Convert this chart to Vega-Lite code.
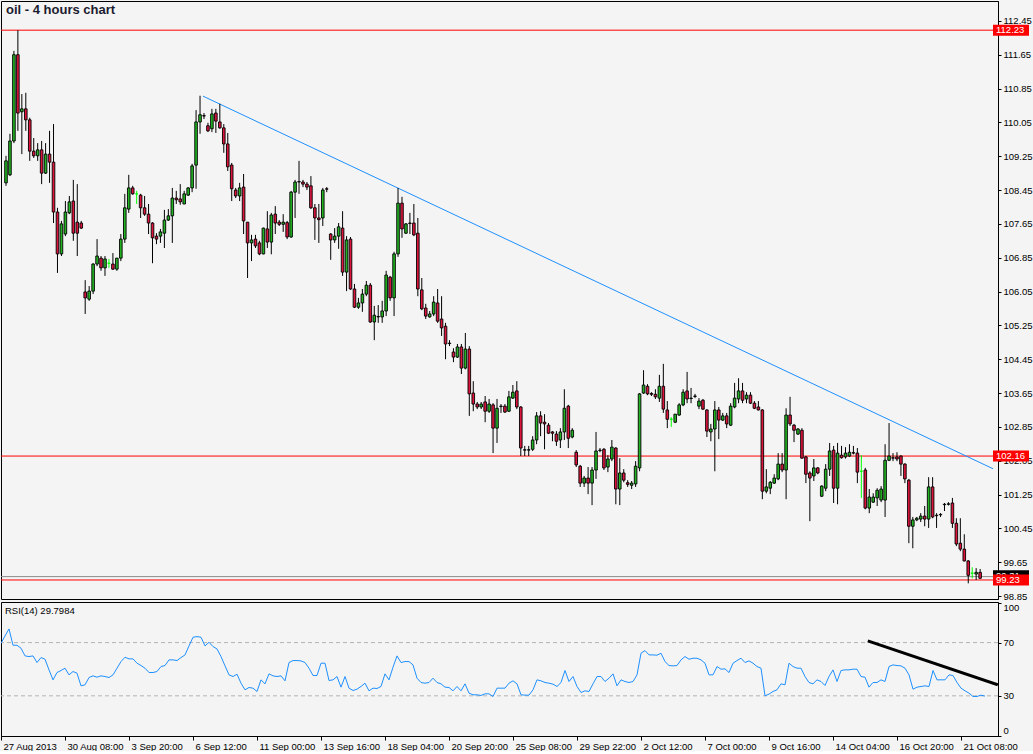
{
"$schema":"https://vega.github.io/schema/vega-lite/v6.json",
"background":"#F4F4F4",
"padding":0,
"autosize":{"type":"pad"},
"bounds":"flush",
"spacing":3,
"config":{"font":"Liberation Sans","view":{"stroke":"#000000","strokeWidth":1},"axis":{"labelFont":"Liberation Sans","labelFontSize":9.5,"labelColor":"#000000","domainColor":"#000000","tickColor":"#000000","grid":false,"labelOverlap":false}},
"datasets":{
"bars":[
{"i":0,"o":108.62,"h":109.26,"l":108.55,"c":109.14,"r":69.5},
{"i":1,"o":108.81,"h":109.78,"l":108.78,"c":109.61,"r":75},
{"i":2,"o":109.61,"h":111.74,"l":109.56,"c":111.65,"r":80.25},
{"i":3,"o":111.65,"h":112.23,"l":109.85,"c":110.27,"r":68},
{"i":4,"o":110.30,"h":110.72,"l":109.30,"c":110.37,"r":68},
{"i":5,"o":110.37,"h":110.75,"l":109.85,"c":110.11,"r":65.75},
{"i":6,"o":110.11,"h":110.16,"l":109.14,"c":109.37,"r":60},
{"i":7,"o":109.37,"h":109.68,"l":109.21,"c":109.26,"r":59.5},
{"i":8,"o":109.26,"h":109.56,"l":109.14,"c":109.40,"r":60},
{"i":9,"o":109.40,"h":109.61,"l":108.59,"c":108.85,"r":55},
{"i":10,"o":108.85,"h":109.56,"l":108.83,"c":109.30,"r":58.75},
{"i":11,"o":109.30,"h":109.85,"l":108.62,"c":109.11,"r":57.5},
{"i":12,"o":109.11,"h":110.01,"l":107.67,"c":107.93,"r":49.5},
{"i":13,"o":107.93,"h":108.03,"l":106.49,"c":106.94,"r":42},
{"i":14,"o":106.94,"h":107.72,"l":106.89,"c":107.65,"r":47.5},
{"i":15,"o":107.41,"h":108.19,"l":107.36,"c":107.93,"r":49},
{"i":16,"o":107.91,"h":108.31,"l":107.88,"c":108.17,"r":50.75},
{"i":17,"o":108.19,"h":108.69,"l":107.25,"c":107.43,"r":45.75},
{"i":18,"o":107.69,"h":108.59,"l":106.89,"c":107.43,"r":48.25},
{"i":19,"o":107.67,"h":107.72,"l":107.53,"c":107.55,"r":47},
{"i":20,"o":106.04,"h":106.32,"l":105.52,"c":105.90,"r":37.5},
{"i":21,"o":105.87,"h":106.18,"l":105.83,"c":106.06,"r":38.25},
{"i":22,"o":106.06,"h":106.72,"l":105.99,"c":106.70,"r":43.75},
{"i":23,"o":106.70,"h":107.29,"l":106.65,"c":106.89,"r":45},
{"i":24,"o":106.84,"h":106.89,"l":106.54,"c":106.61,"r":44},
{"i":25,"o":106.61,"h":106.89,"l":106.42,"c":106.82,"r":45},
{"i":26,"o":106.72,"h":106.82,"l":106.61,"c":106.72,"r":44.5},
{"i":27,"o":106.70,"h":106.96,"l":106.56,"c":106.58,"r":43.75},
{"i":28,"o":106.58,"h":106.84,"l":106.54,"c":106.84,"r":45.75},
{"i":29,"o":106.84,"h":107.41,"l":106.77,"c":107.29,"r":50.75},
{"i":30,"o":107.29,"h":108.36,"l":107.20,"c":108.03,"r":55.75},
{"i":31,"o":108.00,"h":108.81,"l":107.91,"c":108.50,"r":59},
{"i":32,"o":108.50,"h":108.55,"l":108.34,"c":108.36,"r":57.75},
{"i":33,"o":108.36,"h":108.43,"l":108.12,"c":108.36,"r":57.75},
{"i":34,"o":108.33,"h":108.36,"l":107.79,"c":108.03,"r":54.5},
{"i":35,"o":108.03,"h":108.31,"l":107.84,"c":107.88,"r":52.75},
{"i":36,"o":107.88,"h":108.12,"l":107.41,"c":107.67,"r":50.75},
{"i":37,"o":107.67,"h":107.69,"l":106.72,"c":107.32,"r":47.5},
{"i":38,"o":107.36,"h":107.43,"l":107.17,"c":107.29,"r":47.5},
{"i":39,"o":107.36,"h":107.53,"l":107.20,"c":107.46,"r":48.25},
{"i":40,"o":107.43,"h":107.98,"l":107.08,"c":107.74,"r":52},
{"i":41,"o":107.74,"h":108.00,"l":107.72,"c":107.84,"r":52.75},
{"i":42,"o":107.84,"h":108.50,"l":107.20,"c":108.26,"r":57},
{"i":43,"o":108.26,"h":108.43,"l":108.12,"c":108.22,"r":57},
{"i":44,"o":108.24,"h":108.59,"l":108.10,"c":108.17,"r":56.5},
{"i":45,"o":108.12,"h":108.43,"l":108.12,"c":108.36,"r":58.75},
{"i":46,"o":108.33,"h":108.52,"l":108.31,"c":108.50,"r":60.75},
{"i":47,"o":108.50,"h":109.07,"l":108.40,"c":109.02,"r":67.5},
{"i":48,"o":109.04,"h":110.34,"l":108.48,"c":110.06,"r":74},
{"i":49,"o":110.06,"h":110.68,"l":109.78,"c":110.23,"r":74.5},
{"i":50,"o":110.21,"h":110.27,"l":110.13,"c":110.20,"r":74},
{"i":51,"o":109.97,"h":110.04,"l":109.82,"c":109.85,"r":67.5},
{"i":52,"o":109.90,"h":110.37,"l":109.82,"c":110.25,"r":70.25},
{"i":53,"o":110.27,"h":110.37,"l":109.80,"c":110.08,"r":67},
{"i":54,"o":110.06,"h":110.49,"l":109.90,"c":109.92,"r":65.25},
{"i":55,"o":109.92,"h":110.01,"l":109.33,"c":109.54,"r":59.5},
{"i":56,"o":109.54,"h":109.80,"l":108.90,"c":109.00,"r":52.5},
{"i":57,"o":109.04,"h":109.09,"l":108.19,"c":108.48,"r":45.75},
{"i":58,"o":108.45,"h":108.50,"l":108.26,"c":108.31,"r":44.5},
{"i":59,"o":108.31,"h":108.62,"l":108.19,"c":108.50,"r":46.25},
{"i":60,"o":108.52,"h":108.83,"l":107.41,"c":107.72,"r":39.5},
{"i":61,"o":107.69,"h":107.69,"l":106.37,"c":107.20,"r":34.5},
{"i":62,"o":107.20,"h":107.39,"l":106.77,"c":107.27,"r":36.25},
{"i":63,"o":107.29,"h":107.39,"l":107.08,"c":107.13,"r":35.75},
{"i":64,"o":107.20,"h":107.25,"l":106.91,"c":106.94,"r":33.25},
{"i":65,"o":106.94,"h":107.56,"l":106.93,"c":107.55,"r":42},
{"i":66,"o":107.53,"h":107.95,"l":107.08,"c":107.22,"r":39},
{"i":67,"o":107.22,"h":107.91,"l":106.93,"c":107.86,"r":46.5},
{"i":68,"o":107.88,"h":108.07,"l":107.41,"c":107.67,"r":45},
{"i":69,"o":107.69,"h":107.74,"l":107.60,"c":107.64,"r":44.5},
{"i":70,"o":107.64,"h":107.88,"l":107.46,"c":107.69,"r":45},
{"i":71,"o":107.68,"h":107.72,"l":107.29,"c":107.34,"r":41.25},
{"i":72,"o":107.34,"h":108.43,"l":107.32,"c":108.40,"r":55},
{"i":73,"o":108.40,"h":108.69,"l":107.79,"c":108.64,"r":56.5},
{"i":74,"o":108.64,"h":109.14,"l":108.36,"c":108.65,"r":56.5},
{"i":75,"o":108.64,"h":108.69,"l":108.52,"c":108.59,"r":56.25},
{"i":76,"o":108.59,"h":108.64,"l":108.45,"c":108.52,"r":55},
{"i":77,"o":108.55,"h":108.78,"l":108.00,"c":108.03,"r":50.75},
{"i":78,"o":108.03,"h":108.12,"l":107.27,"c":107.79,"r":45.25},
{"i":79,"o":107.79,"h":108.12,"l":107.20,"c":107.75,"r":45.25},
{"i":80,"o":107.79,"h":108.50,"l":107.60,"c":108.45,"r":54.5},
{"i":81,"o":108.48,"h":108.52,"l":108.40,"c":108.47,"r":54.5},
{"i":82,"o":107.41,"h":107.43,"l":106.80,"c":107.27,"r":41.5},
{"i":83,"o":107.27,"h":107.55,"l":107.20,"c":107.36,"r":42},
{"i":84,"o":107.36,"h":107.67,"l":107.06,"c":107.58,"r":44.5},
{"i":85,"o":107.55,"h":107.95,"l":106.42,"c":106.51,"r":36.5},
{"i":86,"o":106.51,"h":107.36,"l":106.06,"c":107.27,"r":44.5},
{"i":87,"o":107.29,"h":107.34,"l":106.09,"c":106.11,"r":35.75},
{"i":88,"o":106.11,"h":106.23,"l":105.66,"c":105.68,"r":34},
{"i":89,"o":105.68,"h":105.90,"l":105.64,"c":105.78,"r":35},
{"i":90,"o":105.78,"h":106.11,"l":105.57,"c":105.99,"r":37},
{"i":91,"o":105.99,"h":106.30,"l":105.94,"c":106.20,"r":39.5},
{"i":92,"o":106.20,"h":106.25,"l":105.31,"c":105.33,"r":33.75},
{"i":93,"o":105.33,"h":105.71,"l":104.90,"c":105.49,"r":35.75},
{"i":94,"o":105.46,"h":105.73,"l":105.31,"c":105.45,"r":35.5},
{"i":95,"o":105.45,"h":105.83,"l":105.31,"c":105.59,"r":37},
{"i":96,"o":105.59,"h":106.54,"l":105.47,"c":106.44,"r":46.5},
{"i":97,"o":106.39,"h":106.42,"l":105.83,"c":105.90,"r":42},
{"i":98,"o":105.90,"h":106.99,"l":105.47,"c":106.94,"r":51.5},
{"i":99,"o":106.94,"h":108.50,"l":106.87,"c":108.14,"r":60},
{"i":100,"o":108.14,"h":108.29,"l":107.32,"c":107.53,"r":55},
{"i":101,"o":107.43,"h":107.67,"l":107.41,"c":107.65,"r":55.75},
{"i":102,"o":107.67,"h":107.91,"l":107.41,"c":107.66,"r":55.75},
{"i":103,"o":107.67,"h":108.12,"l":107.36,"c":107.39,"r":53.25},
{"i":104,"o":107.43,"h":107.79,"l":105.94,"c":106.11,"r":43.25},
{"i":105,"o":106.09,"h":106.37,"l":105.61,"c":105.64,"r":40},
{"i":106,"o":105.66,"h":105.76,"l":105.40,"c":105.47,"r":39.5},
{"i":107,"o":105.45,"h":105.59,"l":105.43,"c":105.52,"r":40},
{"i":108,"o":105.52,"h":105.94,"l":105.47,"c":105.80,"r":43.25},
{"i":109,"o":105.78,"h":106.11,"l":105.31,"c":105.35,"r":40},
{"i":110,"o":105.40,"h":105.94,"l":105.00,"c":105.19,"r":39},
{"i":111,"o":105.23,"h":105.31,"l":104.45,"c":104.81,"r":36.5},
{"i":112,"o":104.82,"h":104.90,"l":104.76,"c":104.83,"r":36.25},
{"i":113,"o":104.62,"h":104.71,"l":104.38,"c":104.50,"r":33.75},
{"i":114,"o":104.50,"h":104.81,"l":104.48,"c":104.74,"r":37},
{"i":115,"o":104.74,"h":104.81,"l":104.10,"c":104.24,"r":33.75},
{"i":116,"o":104.24,"h":105.07,"l":104.21,"c":104.69,"r":39},
{"i":117,"o":104.69,"h":104.76,"l":103.11,"c":103.63,"r":32},
{"i":118,"o":103.65,"h":103.93,"l":103.22,"c":103.39,"r":30.75},
{"i":119,"o":103.39,"h":103.44,"l":103.27,"c":103.32,"r":30.75},
{"i":120,"o":103.32,"h":103.44,"l":103.27,"c":103.39,"r":30.25},
{"i":121,"o":103.44,"h":103.58,"l":102.96,"c":103.22,"r":31.5},
{"i":122,"o":103.22,"h":103.51,"l":103.18,"c":103.39,"r":31.5},
{"i":123,"o":103.37,"h":103.41,"l":102.23,"c":102.82,"r":29.5},
{"i":124,"o":102.82,"h":103.51,"l":102.47,"c":103.29,"r":35.75},
{"i":125,"o":103.33,"h":103.39,"l":103.18,"c":103.34,"r":35.75},
{"i":126,"o":103.34,"h":103.39,"l":103.18,"c":103.20,"r":35.75},
{"i":127,"o":103.22,"h":103.70,"l":103.20,"c":103.56,"r":39.5},
{"i":128,"o":103.53,"h":103.84,"l":103.51,"c":103.67,"r":41.25},
{"i":129,"o":103.70,"h":103.93,"l":103.27,"c":103.32,"r":39},
{"i":130,"o":103.32,"h":103.34,"l":102.16,"c":102.35,"r":30.75},
{"i":131,"o":102.31,"h":102.40,"l":102.16,"c":102.30,"r":30.5},
{"i":132,"o":102.30,"h":102.40,"l":102.16,"c":102.31,"r":30.5},
{"i":133,"o":102.32,"h":102.63,"l":102.28,"c":102.54,"r":34.5},
{"i":134,"o":102.54,"h":103.20,"l":102.44,"c":103.11,"r":42},
{"i":135,"o":103.11,"h":103.22,"l":102.63,"c":102.94,"r":41.25},
{"i":136,"o":102.96,"h":103.15,"l":102.32,"c":102.92,"r":40},
{"i":137,"o":102.89,"h":102.94,"l":102.68,"c":102.70,"r":39.5},
{"i":138,"o":102.73,"h":102.75,"l":102.51,"c":102.70,"r":38.75},
{"i":139,"o":102.68,"h":102.75,"l":102.40,"c":102.51,"r":37},
{"i":140,"o":102.54,"h":102.82,"l":102.35,"c":102.73,"r":40},
{"i":141,"o":102.73,"h":103.74,"l":102.54,"c":103.29,"r":49},
{"i":142,"o":103.34,"h":103.37,"l":102.35,"c":102.58,"r":40.75},
{"i":143,"o":102.61,"h":102.82,"l":102.58,"c":102.77,"r":44.5},
{"i":144,"o":102.25,"h":102.30,"l":101.90,"c":101.95,"r":37},
{"i":145,"o":101.92,"h":101.95,"l":101.43,"c":101.52,"r":32.5},
{"i":146,"o":101.52,"h":101.69,"l":101.43,"c":101.64,"r":33.75},
{"i":147,"o":101.64,"h":101.90,"l":101.26,"c":101.52,"r":33.25},
{"i":148,"o":101.52,"h":101.90,"l":101.00,"c":101.83,"r":39},
{"i":149,"o":101.83,"h":102.73,"l":101.62,"c":102.28,"r":44.5},
{"i":150,"o":102.29,"h":102.35,"l":102.25,"c":102.30,"r":44.5},
{"i":151,"o":102.32,"h":102.35,"l":101.83,"c":101.88,"r":40.75},
{"i":152,"o":101.90,"h":102.18,"l":101.78,"c":102.09,"r":43.25},
{"i":153,"o":102.09,"h":102.54,"l":102.04,"c":102.37,"r":46.5},
{"i":154,"o":102.35,"h":102.37,"l":101.02,"c":101.38,"r":37.5},
{"i":155,"o":101.38,"h":102.11,"l":101.00,"c":101.76,"r":42},
{"i":156,"o":101.76,"h":101.85,"l":101.54,"c":101.59,"r":40.75},
{"i":157,"o":101.53,"h":101.59,"l":101.43,"c":101.49,"r":40},
{"i":158,"o":101.47,"h":101.57,"l":101.38,"c":101.52,"r":40.75},
{"i":159,"o":101.50,"h":102.04,"l":101.43,"c":101.92,"r":45.75},
{"i":160,"o":101.88,"h":103.65,"l":101.80,"c":103.63,"r":62},
{"i":161,"o":103.65,"h":104.19,"l":103.63,"c":103.84,"r":64},
{"i":162,"o":103.81,"h":103.86,"l":103.60,"c":103.63,"r":60.75},
{"i":163,"o":103.64,"h":103.67,"l":103.58,"c":103.62,"r":60.75},
{"i":164,"o":103.62,"h":103.74,"l":103.51,"c":103.56,"r":60.5},
{"i":165,"o":103.53,"h":104.08,"l":103.44,"c":103.81,"r":62},
{"i":166,"o":103.81,"h":104.34,"l":103.18,"c":103.27,"r":55.75},
{"i":167,"o":103.25,"h":103.46,"l":102.82,"c":103.03,"r":52.75},
{"i":168,"o":103.03,"h":103.08,"l":102.85,"c":103.03,"r":52.5},
{"i":169,"o":102.96,"h":103.15,"l":102.94,"c":103.15,"r":52.75},
{"i":170,"o":103.13,"h":103.41,"l":103.11,"c":103.37,"r":57},
{"i":171,"o":103.37,"h":103.74,"l":103.34,"c":103.67,"r":59.5},
{"i":172,"o":103.70,"h":104.15,"l":103.41,"c":103.51,"r":57.5},
{"i":173,"o":103.52,"h":103.77,"l":103.41,"c":103.53,"r":58.25},
{"i":174,"o":103.57,"h":103.63,"l":103.53,"c":103.58,"r":58.25},
{"i":175,"o":103.34,"h":103.53,"l":103.27,"c":103.46,"r":57},
{"i":176,"o":103.48,"h":103.51,"l":103.25,"c":103.27,"r":54.5},
{"i":177,"o":103.25,"h":103.27,"l":102.61,"c":102.75,"r":45.75},
{"i":178,"o":102.73,"h":102.92,"l":102.51,"c":102.80,"r":45.75},
{"i":179,"o":102.80,"h":103.46,"l":101.80,"c":103.25,"r":52},
{"i":180,"o":103.25,"h":103.32,"l":102.56,"c":103.01,"r":50},
{"i":181,"o":103.01,"h":103.18,"l":102.99,"c":103.11,"r":50.25},
{"i":182,"o":103.11,"h":103.18,"l":102.82,"c":102.92,"r":47.5},
{"i":183,"o":102.89,"h":103.41,"l":102.87,"c":103.34,"r":54.5},
{"i":184,"o":103.32,"h":103.89,"l":103.29,"c":103.53,"r":56.5},
{"i":185,"o":103.51,"h":104.00,"l":103.41,"c":103.70,"r":58.25},
{"i":186,"o":103.70,"h":103.89,"l":103.41,"c":103.48,"r":55},
{"i":187,"o":103.51,"h":103.67,"l":103.41,"c":103.60,"r":56.25},
{"i":188,"o":103.60,"h":103.67,"l":103.39,"c":103.41,"r":54.5},
{"i":189,"o":103.41,"h":103.46,"l":103.27,"c":103.29,"r":52},
{"i":190,"o":103.32,"h":103.46,"l":103.24,"c":103.25,"r":50.75},
{"i":191,"o":103.25,"h":103.27,"l":101.14,"c":101.33,"r":30},
{"i":192,"o":101.33,"h":101.85,"l":101.28,"c":101.43,"r":31.25},
{"i":193,"o":101.40,"h":101.57,"l":101.26,"c":101.54,"r":33.25},
{"i":194,"o":101.52,"h":101.73,"l":101.50,"c":101.64,"r":34.5},
{"i":195,"o":101.62,"h":102.23,"l":101.59,"c":101.97,"r":39},
{"i":196,"o":101.97,"h":102.23,"l":101.78,"c":101.83,"r":38.25},
{"i":197,"o":101.83,"h":103.29,"l":101.14,"c":103.13,"r":54.5},
{"i":198,"o":103.13,"h":103.56,"l":102.87,"c":102.92,"r":52},
{"i":199,"o":102.89,"h":102.92,"l":102.49,"c":102.77,"r":50.75},
{"i":200,"o":102.68,"h":102.82,"l":102.66,"c":102.80,"r":50.75},
{"i":201,"o":102.77,"h":102.82,"l":102.10,"c":102.11,"r":44.5},
{"i":202,"o":102.14,"h":102.16,"l":101.52,"c":101.73,"r":40},
{"i":203,"o":101.76,"h":101.80,"l":100.62,"c":101.64,"r":39},
{"i":204,"o":101.69,"h":102.09,"l":101.57,"c":101.88,"r":42},
{"i":205,"o":101.88,"h":101.90,"l":101.73,"c":101.76,"r":40.75},
{"i":206,"o":101.21,"h":101.47,"l":101.19,"c":101.45,"r":37.75},
{"i":207,"o":101.40,"h":101.97,"l":101.33,"c":101.85,"r":44.5},
{"i":208,"o":101.85,"h":102.47,"l":101.69,"c":102.28,"r":49.5},
{"i":209,"o":102.30,"h":102.40,"l":101.05,"c":101.40,"r":40.75},
{"i":210,"o":101.40,"h":102.47,"l":101.02,"c":102.23,"r":49},
{"i":211,"o":102.18,"h":102.40,"l":102.10,"c":102.12,"r":49.5},
{"i":212,"o":102.14,"h":102.37,"l":102.10,"c":102.23,"r":49.5},
{"i":213,"o":102.16,"h":102.44,"l":102.14,"c":102.25,"r":50},
{"i":214,"o":102.24,"h":102.40,"l":102.20,"c":102.23,"r":50},
{"i":215,"o":102.23,"h":102.35,"l":101.52,"c":101.78,"r":44.5},
{"i":216,"o":101.80,"h":102.18,"l":101.17,"c":101.80,"r":44},
{"i":217,"o":101.83,"h":101.88,"l":100.90,"c":100.93,"r":36.5},
{"i":218,"o":100.93,"h":101.38,"l":100.81,"c":101.19,"r":40},
{"i":219,"o":101.07,"h":101.28,"l":101.05,"c":101.19,"r":40},
{"i":220,"o":101.17,"h":101.40,"l":100.98,"c":101.35,"r":42},
{"i":221,"o":101.12,"h":101.45,"l":101.07,"c":101.38,"r":40.75},
{"i":222,"o":101.12,"h":102.44,"l":100.72,"c":102.06,"r":52},
{"i":223,"o":102.06,"h":102.94,"l":102.04,"c":102.16,"r":53.25},
{"i":224,"o":102.12,"h":102.23,"l":102.04,"c":102.11,"r":52.75},
{"i":225,"o":102.14,"h":102.25,"l":102.04,"c":102.09,"r":52.5},
{"i":226,"o":102.16,"h":102.18,"l":101.69,"c":101.97,"r":50.75},
{"i":227,"o":101.97,"h":101.99,"l":101.52,"c":101.62,"r":45.75},
{"i":228,"o":101.59,"h":101.62,"l":100.10,"c":100.50,"r":35},
{"i":229,"o":100.50,"h":100.72,"l":99.98,"c":100.65,"r":36.5},
{"i":230,"o":100.65,"h":100.72,"l":100.62,"c":100.69,"r":37},
{"i":231,"o":100.67,"h":100.81,"l":100.60,"c":100.74,"r":37.5},
{"i":232,"o":100.74,"h":100.98,"l":100.50,"c":100.67,"r":37},
{"i":233,"o":100.67,"h":101.66,"l":100.46,"c":101.43,"r":49},
{"i":234,"o":101.43,"h":101.66,"l":100.69,"c":100.72,"r":42},
{"i":235,"o":100.75,"h":100.81,"l":100.46,"c":100.76,"r":42},
{"i":236,"o":100.77,"h":100.81,"l":100.72,"c":100.78,"r":42},
{"i":237,"o":101.01,"h":101.05,"l":100.86,"c":101.02,"r":45.75},
{"i":238,"o":101.02,"h":101.07,"l":100.99,"c":101.03,"r":45.25},
{"i":239,"o":101.05,"h":101.17,"l":100.46,"c":100.57,"r":40},
{"i":240,"o":100.57,"h":100.69,"l":100.03,"c":100.08,"r":35.75},
{"i":241,"o":100.10,"h":100.69,"l":99.91,"c":99.96,"r":33.75},
{"i":242,"o":99.96,"h":100.31,"l":99.67,"c":99.68,"r":32},
{"i":243,"o":99.68,"h":99.70,"l":99.15,"c":99.34,"r":29.5},
{"i":244,"o":99.39,"h":99.53,"l":99.27,"c":99.39,"r":29.5},
{"i":245,"o":99.37,"h":99.51,"l":99.23,"c":99.41,"r":30.5},
{"i":246,"o":99.41,"h":99.49,"l":99.26,"c":99.27,"r":29.8}
],
"lvl":[{"p":112.23},{"p":102.16},{"p":99.23}],
"bid":[{"p":99.31}],
"trend":[{"i":49.75,"p":110.67},{"i":249.25,"p":101.86}],
"bidtag":[{"p":99.33,"t":"99.31"}],
"lvltag":[{"p":112.23,"t":"112.23"},{"p":102.16,"t":"102.16"},{"p":99.23,"t":"99.23"}],
"rlev":[{"r":30},{"r":70}],
"rtrend":[{"i":216.7,"r":71.25},{"i":249.2,"r":38.25}]
},
"vconcat":[
{
"width":997,"height":598,
"title":{"text":"oil - 4 hours chart","anchor":"start","frame":"group","offset":-16,"dx":5,"fontSize":13,"fontWeight":"bold","color":"#1C1C30","font":"Liberation Sans"},
"layer":[
{"data":{"name":"lvl"},"mark":{"type":"rule","color":"#FF0000","strokeWidth":1},
 "encoding":{"y":{"field":"p","type":"quantitative","title":null,"scale":{"domain":[98.78,112.92],"nice":false,"zero":false},
  "axis":{"orient":"right","values":[98.85,99.65,100.45,101.25,102.05,102.85,103.65,104.45,105.25,106.05,106.85,107.65,108.45,109.25,110.05,110.85,111.65,112.45],"tickCount":60,"format":".2f","tickSize":3,"labelPadding":2,"labelOverlap":false,"grid":false}}}},
{"data":{"name":"bid"},"mark":{"type":"rule","color":"#8C8C8C","strokeWidth":1},
 "encoding":{"y":{"field":"p","type":"quantitative","title":null,"scale":{"domain":[98.78,112.92],"nice":false,"zero":false}}}},
{"data":{"name":"trend"},"mark":{"type":"line","color":"#1E90FF","strokeWidth":1,"clip":true},
 "encoding":{"x":{"field":"i","type":"quantitative","title":null,"scale":{"domain":[0,249.25],"nice":false,"zero":false},"axis":null},
  "y":{"field":"p","type":"quantitative","title":null,"scale":{"domain":[98.78,112.92],"nice":false,"zero":false}}}},
{"data":{"name":"bars"},"mark":{"type":"rule","strokeWidth":1,"clip":true},
 "encoding":{"x":{"field":"i","type":"quantitative","title":null,"scale":{"domain":[0,249.25],"nice":false,"zero":false},"axis":null},
  "y":{"field":"l","type":"quantitative","title":null,"scale":{"domain":[98.78,112.92],"nice":false,"zero":false}},
  "y2":{"field":"h"},
  "color":{"condition":{"test":"datum.o == datum.c","value":"#00FF00"},"value":"#000000"}}},
{"data":{"name":"bars"},"mark":{"type":"bar","size":2.6,"strokeWidth":0.9,"clip":true},
 "encoding":{"x":{"field":"i","type":"quantitative","title":null,"scale":{"domain":[0,249.25],"nice":false,"zero":false},"axis":null},
  "y":{"field":"o","type":"quantitative","title":null,"scale":{"domain":[98.78,112.92],"nice":false,"zero":false}},
  "y2":{"field":"c"},
  "fill":{"condition":{"test":"datum.c > datum.o","value":"#22B422"},"value":"#DC143C"},
  "stroke":{"condition":{"test":"datum.o == datum.c","value":"#00FF00"},"value":"#000000"}}},
{"data":{"name":"bidtag"},"mark":{"type":"point","shape":"M0,-5.5H36V5.5H0Z","size":4,"filled":true,"opacity":1,"strokeWidth":0,"color":"#000000"},
 "encoding":{"x":{"datum":249.25,"type":"quantitative"},
  "y":{"field":"p","type":"quantitative","title":null,"scale":{"domain":[98.78,112.92],"nice":false,"zero":false}}}},
{"data":{"name":"bidtag"},"mark":{"type":"text","align":"left","baseline":"middle","dx":3,"fontSize":9.5,"color":"#FFFFFF","font":"Liberation Sans"},
 "encoding":{"x":{"datum":249.25,"type":"quantitative"},
  "y":{"field":"p","type":"quantitative","title":null,"scale":{"domain":[98.78,112.92],"nice":false,"zero":false}},
  "text":{"field":"t"}}},
{"data":{"name":"lvltag"},"mark":{"type":"point","shape":"M0,-5.5H36V5.5H0Z","size":4,"filled":true,"opacity":1,"strokeWidth":0,"color":"#FF0000"},
 "encoding":{"x":{"datum":249.25,"type":"quantitative"},
  "y":{"field":"p","type":"quantitative","title":null,"scale":{"domain":[98.78,112.92],"nice":false,"zero":false}}}},
{"data":{"name":"lvltag"},"mark":{"type":"text","align":"left","baseline":"middle","dx":3,"fontSize":9.5,"color":"#FFFFFF","font":"Liberation Sans"},
 "encoding":{"x":{"datum":249.25,"type":"quantitative"},
  "y":{"field":"p","type":"quantitative","title":null,"scale":{"domain":[98.78,112.92],"nice":false,"zero":false}},
  "text":{"field":"t"}}}
]
},
{
"width":997,"height":134,
"title":{"text":"RSI(14) 29.7984","anchor":"start","frame":"group","offset":-13,"dx":4,"fontSize":9.5,"fontWeight":"normal","color":"#000000","font":"Liberation Sans"},
"layer":[
{"data":{"name":"rlev"},"mark":{"type":"rule","color":"#B4B4B4","strokeWidth":1,"strokeDash":[4,3]},
 "encoding":{"y":{"field":"r","type":"quantitative","title":null,"scale":{"domain":[-0.2,100.5],"nice":false,"zero":false},
  "axis":{"orient":"right","values":[0,30,70,100],"tickCount":20,"tickSize":3,"labelPadding":2,"labelFlush":true,"labelOverlap":false,"grid":false}}}},
{"data":{"name":"bars"},"mark":{"type":"line","color":"#1E90FF","strokeWidth":1,"clip":true},
 "encoding":{"x":{"field":"i","type":"quantitative","title":null,"scale":{"domain":[0,249.25],"nice":false,"zero":false},
  "axis":{"values":[0,16,32,48,64,80,96,112,128,144,160,176,192,208,224,240],"tickCount":60,"labelExpr":"['27 Aug 2013','30 Aug 08:00','3 Sep 20:00','6 Sep 12:00','11 Sep 00:00','13 Sep 16:00','18 Sep 04:00','20 Sep 20:00','25 Sep 08:00','29 Sep 22:00','2 Oct 12:00','7 Oct 00:00','9 Oct 16:00','14 Oct 04:00','16 Oct 20:00','21 Oct 08:00'][round(datum.value/16)]","labelAlign":"left","labelOffset":2,"tickSize":4,"labelPadding":1,"labelOverlap":false,"labelBound":false,"labelFlush":false,"grid":false}},
  "y":{"field":"r","type":"quantitative","title":null,"scale":{"domain":[-0.2,100.5],"nice":false,"zero":false}}}},
{"data":{"name":"rtrend"},"mark":{"type":"line","color":"#000000","strokeWidth":3,"clip":true},
 "encoding":{"x":{"field":"i","type":"quantitative","title":null,"scale":{"domain":[0,249.25],"nice":false,"zero":false}},
  "y":{"field":"r","type":"quantitative","title":null,"scale":{"domain":[-0.2,100.5],"nice":false,"zero":false}}}}
]
}
]
}
